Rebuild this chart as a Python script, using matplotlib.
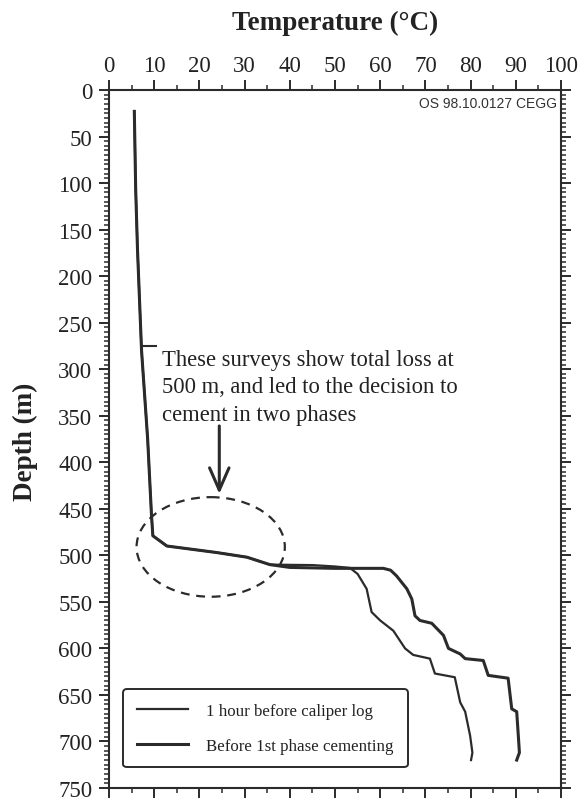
import matplotlib.pyplot as plt
from matplotlib.patches import Ellipse
from matplotlib.ticker import MultipleLocator

# Temperature logs (°C) against depth (m); both surveys share the upper section
upper_depth = [23, 106, 171, 280, 375, 457, 479, 490, 497, 502, 510]
upper_temp = [5.6, 5.9, 6.3, 7.2, 8.55, 9.4, 9.7, 12.8, 23.8, 30.5, 35.6]

caliper_depth = [510.5, 512, 513.5, 520, 536, 561, 570, 581, 600, 607, 611, 627,
                 631, 658, 668, 694, 712, 720]
caliper_temp = [45, 50, 53.3, 55, 57, 58.1, 60, 62.9, 65.5, 67.3, 71, 72.1,
                76.5, 77.7, 78.8, 79.9, 80.4, 80.1]

cementing_depth = [513, 514, 514, 516, 522, 536, 547, 565, 570, 573, 586, 600,
                   606, 611, 613, 629, 632, 665, 668, 697, 712, 720]
cementing_temp = [40, 50, 60.7, 62.3, 63.6, 65.9, 67, 67.7, 68.8, 71.4, 74, 75.1,
                  77.7, 78.8, 82.8, 83.9, 88.3, 89.1, 90.2, 90.6, 90.8, 90.2]

labels = ["1 hour before caliper log", "Before 1st phase cementing"]
note = "These surveys show total loss at\n500 m, and led to the decision to\ncement in two phases"

ink = "#2b2b2b"
serif = "Liberation Serif"

fig = plt.figure(figsize=(5.87, 8.04), dpi=100)
ax = fig.add_axes([0.1857, 0.01866, 0.7700, 0.8682])

ax.plot(upper_temp + caliper_temp, upper_depth + caliper_depth,
        color=ink, lw=1.6, solid_joinstyle="round", label=labels[0])
ax.plot(upper_temp + cementing_temp, upper_depth + cementing_depth,
        color=ink, lw=2.2, solid_joinstyle="round", label=labels[1])

ax.set_xlim(0, 100)
ax.set_ylim(750, 0)

ax.xaxis.set_major_locator(MultipleLocator(10))
ax.xaxis.set_minor_locator(MultipleLocator(5))
ax.yaxis.set_major_locator(MultipleLocator(50))
ax.yaxis.set_minor_locator(MultipleLocator(5))

ax.tick_params(axis="x", which="both", top=True, bottom=True,
               labeltop=True, labelbottom=False, direction="out")
ax.tick_params(axis="y", which="both", left=True, right=True,
               labelleft=True, labelright=False, direction="out")
ax.tick_params(which="major", length=7, width=1.4, color=ink, labelsize=16.5,
               labelcolor="#222222")
ax.tick_params(which="minor", length=3.5, width=1.1, color=ink)
ax.tick_params(axis="x", pad=3)
ax.tick_params(axis="y", pad=5)
for lab in ax.get_xticklabels() + ax.get_yticklabels():
    lab.set_family(serif)

for sp in ax.spines.values():
    sp.set_linewidth(1.5)
    sp.set_color(ink)

fig.text(0.5703, 1 - 23 / 804, "Temperature (°C)", ha="center", va="center",
         fontsize=19.5, fontweight="bold", family=serif, color="#222222")
fig.text(25 / 587, 1 - 442 / 804, "Depth (m)", rotation=90, ha="center",
         va="center", fontsize=19.5, fontweight="bold", family=serif,
         color="#222222")

ax.text(0.991, 0.982, "OS 98.10.0127 CEGG", transform=ax.transAxes,
        ha="right", va="center", fontsize=10, family="Liberation Sans",
        color="#333333")

# annotation about the loss zone
ax.plot([7.4, 10.3], [275, 275], color=ink, lw=1.5)
ax.text(11.7, 278, note, ha="left", va="top", fontsize=16.3, family=serif,
        color="#222222", linespacing=1.42)
ax.annotate("", xy=(24.4, 434), xytext=(24.4, 361),
            arrowprops=dict(arrowstyle="->,head_length=1.6,head_width=0.7",
                            lw=2.2, color=ink, shrinkA=0, shrinkB=0))
ax.add_patch(Ellipse((22.5, 491), 32.8, 107, fill=False, ec=ink, lw=1.6,
                     ls=(0, (4, 3))))

leg = ax.legend(loc="lower left", bbox_to_anchor=(0.032, 0.03),
                prop={"family": serif, "size": 12.2}, handlelength=3.0,
                handletextpad=1.1, labelspacing=1.1, borderpad=0.8,
                borderaxespad=0, fancybox=True, framealpha=1)
leg.get_frame().set_edgecolor(ink)
leg.get_frame().set_linewidth(1.4)
for t in leg.get_texts():
    t.set_color("#222222")

fig.savefig("out.png", dpi=100)
